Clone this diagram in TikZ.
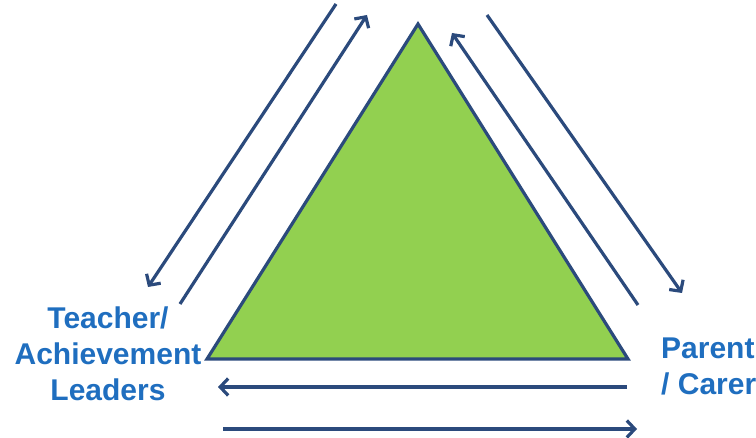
\documentclass[tikz,border=0pt]{standalone}
\usepackage{fontspec}
\setmainfont{Liberation Sans}
\usetikzlibrary{arrows.meta}

\definecolor{leafgreen}{HTML}{92D050}
\definecolor{navyline}{HTML}{2B4A7C}
\definecolor{labelblue}{HTML}{1F6EBF}

\begin{document}
\begin{tikzpicture}[
  x=1pt, y=-1pt,
  >={Straight Barb[length=8pt, width=17pt]},
  ln/.style={->, line width=3.2pt, navyline},
  lbl/.style={font=\fontsize{30}{36}\selectfont\bfseries, text=labelblue,
              inner sep=0pt},
]
\useasboundingbox (0,0) rectangle (756,438);

% triangle
\coordinate (top) at (418,24);
\coordinate (bl) at (207,359);
\coordinate (br) at (628,359);
\filldraw[fill=leafgreen, draw=navyline, line width=3.2pt, line join=miter]
  (top) -- (br) -- (bl) -- cycle;

% labels
\node[lbl, align=center] (teach) at (108,354)
     {Teacher/\\ Achievement\\ Leaders};
\node[lbl, align=left, anchor=west] (parent) at (661,366)
     {Parent\\ / Carer};

% arrow ends
\coordinate (l1s) at (336,4);   \coordinate (l1e) at (148,287);
\coordinate (l2s) at (180,304); \coordinate (l2e) at (367,15);
\coordinate (r1s) at (638,305); \coordinate (r1e) at (452,33);
\coordinate (r2s) at (487,15);  \coordinate (r2e) at (682,293);
\coordinate (b1s) at (627,387); \coordinate (b1e) at (218,387);
\coordinate (b2s) at (223,429); \coordinate (b2e) at (637,429);

\draw[ln] (l1s) -- (l1e);
\draw[ln] (l2s) -- (l2e);
\draw[ln] (r1s) -- (r1e);
\draw[ln] (r2s) -- (r2e);
\draw[ln] (b1s) -- (b1e);
\draw[ln] (b2s) -- (b2e);

\end{tikzpicture}
\end{document}
